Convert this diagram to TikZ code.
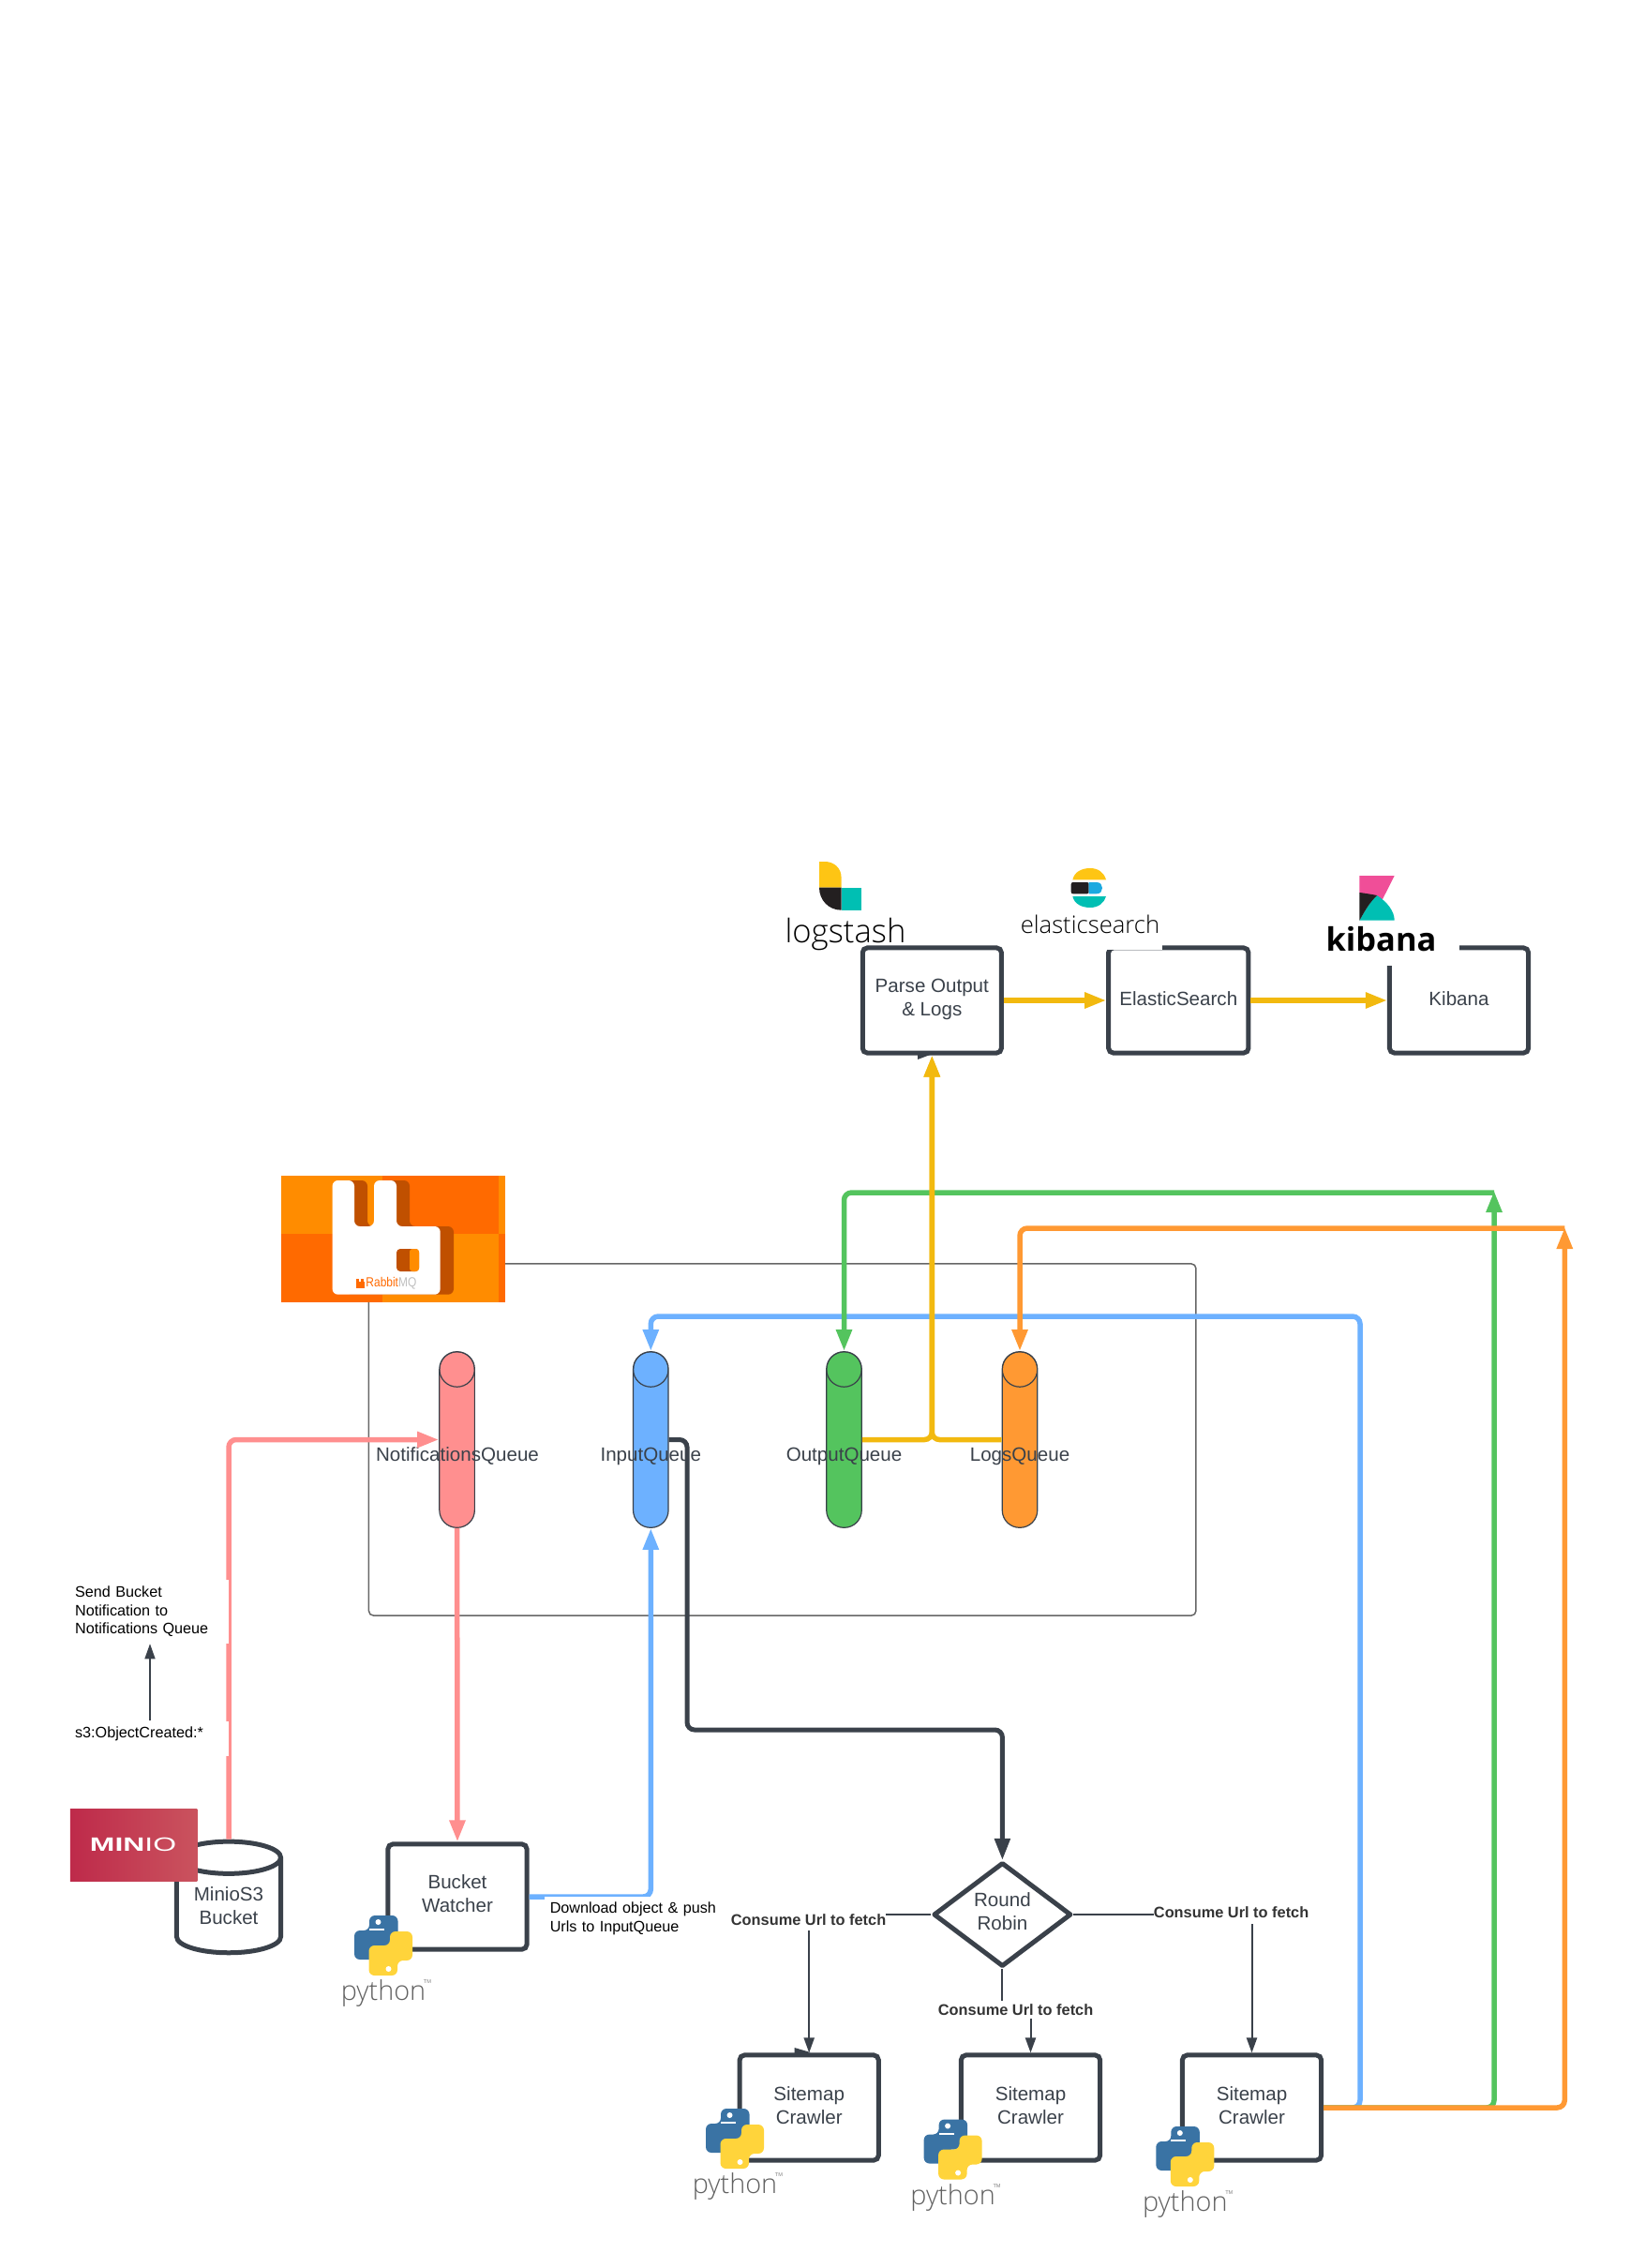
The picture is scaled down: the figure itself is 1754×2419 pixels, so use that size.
\documentclass[tikz,border=0pt]{standalone}
\usepackage{fontspec}
\setmainfont{Liberation Sans}
\newfontfamily\logofont{Open Sans}
\newfontfamily\thinfont{Open Sans Light}
\usetikzlibrary{shapes.geometric, arrows.meta, calc}

\definecolor{inkdark}{HTML}{3A414A}
\definecolor{qpink}{HTML}{FF8F8F}
\definecolor{qblue}{HTML}{6DB1FF}
\definecolor{qgreen}{HTML}{54C45E}
\definecolor{qorange}{HTML}{FF9933}
\definecolor{lineyellow}{HTML}{F2B90F}
\definecolor{pyblue}{HTML}{3A73A4}
\definecolor{pyyellow}{HTML}{FFD43B}
\definecolor{rabbitA}{HTML}{FF8C00}
\definecolor{rabbitB}{HTML}{FF6A00}
\definecolor{rabbitC}{HTML}{C05000}
\definecolor{minioA}{HTML}{BE2A4A}
\definecolor{minioB}{HTML}{CA535E}
\definecolor{elasticteal}{HTML}{00BFB3}
\definecolor{elasticyellow}{HTML}{FEC514}
\definecolor{elasticblue}{HTML}{1BA9E0}
\definecolor{kibanapink}{HTML}{F04E98}
\definecolor{logoblack}{HTML}{231F20}

\tikzset{
  procbox/.style={draw=inkdark, line width=.05cm, rounded corners=.05cm, minimum width=1.48cm,
    minimum height=1.12cm, align=center, text=inkdark, text depth=.055cm, font=\fontsize{5.85}{7.1}\selectfont},
  queue/.style={draw=inkdark, line width=.012cm, minimum width=.375cm, minimum height=1.875cm,
    rounded corners=.185cm, path picture={\draw[inkdark, line width=.012cm]
      ($(path picture bounding box.north)+(0,-.1875cm)$) circle (.1875cm);}},
  queuetext/.style={text=inkdark, inner sep=0pt, anchor=base, font=\fontsize{5.85}{7.1}\selectfont},
  flow/.style={line width=.055cm, rounded corners=.08cm, -{Triangle[length=.23cm,width=.16cm]}},
  thinflow/.style={draw=inkdark, line width=.02cm, -{Triangle[length=.16cm,width=.11cm]}},
  smalltext/.style={fill=white, align=left, inner ysep=0pt, font=\fontsize{4.6}{5.55}\selectfont},
  urltext/.style={fill=white, inner xsep=0pt, inner ysep=0pt, text=black!80, font=\bfseries\fontsize{4.65}{5.55}\selectfont},
  pylogo/.pic={
    \fill[pyblue, rounded corners=.06cm] (-15,-32) -- (15.5,-32) -- (15.5,0) -- (-7,0) -- (-7,15) -- (-31,15) -- (-31,-16) -- (-15,-16) -- cycle;
    \fill[white] (-5.5,-25) circle (3);
    \fill[white] (-15,-18) rectangle (1,-16);
    \begin{scope}[rotate=180]
      \fill[pyyellow, rounded corners=.06cm] (-15,-32) -- (15.5,-32) -- (15.5,0) -- (-7,0) -- (-7,15) -- (-31,15) -- (-31,-16) -- (-15,-16) -- cycle;
      \fill[white] (-5.5,-25) circle (3);
    \end{scope}
    \node (-word) [text=black!62, inner sep=0pt, font=\thinfont\fontsize{8.2}{8}\selectfont] at (0,51) {python};
    \node (-tm) [text=black!50, inner sep=0pt, font=\fontsize{1.6}{2}\selectfont] at (47,39) {TM};
  }
}

\begin{document}
\begin{tikzpicture}[x=.01cm, y=-.01cm]
  \useasboundingbox (0,0) rectangle (1754,2419);

  % rabbit group
  \node (queuegroup) [draw=black!60, line width=.015cm, rounded corners=.05cm, minimum width=8.82cm, minimum height=3.75cm] at (834.7,1535.5) {};

  % queues
  \node (notifq) [queue, fill=qpink] at (487.6,1535.5) {};
  \node (inputq) [queue, fill=qblue] at (694.3,1535.5) {};
  \node (outputq) [queue, fill=qgreen] at (900.5,1535.5) {};
  \node (logsq) [queue, fill=qorange] at (1088,1535.5) {};
  \node (notiftext) [queuetext] at (488,1558.5) {NotificationsQueue};
  \node (inputtext) [queuetext] at (694.3,1558.5) {InputQueue};
  \node (outputtext) [queuetext] at (900.5,1558.5) {OutputQueue};
  \node (logstext) [queuetext] at (1088,1558.5) {LogsQueue};

  % top row
  \node (parse) [procbox] at (994.3,1067) {Parse Output\\\& Logs};
  \node (elastic) [procbox, text depth=.04cm] at (1257.3,1067) {ElasticSearch};
  \node (kibana) [procbox, text depth=.04cm] at (1556.5,1067) {Kibana};

  % bucket and watcher
  \node (minio) [draw=inkdark, line width=.05cm, cylinder, shape border rotate=90, aspect=.35, minimum width=1.11cm, minimum height=1.06cm,
    align=center, text=inkdark, text depth=.12cm, font=\fontsize{5.85}{7.1}\selectfont] at (244,2038.5) {MinioS3\\Bucket};
  \node (watcher) [procbox, text depth=.07cm] at (488,2023) {Bucket\\Watcher};

  % round robin and crawlers
  \node (robin) [diamond, draw=inkdark, line width=.05cm, line join=round, minimum width=1.47cm, minimum height=1.11cm, inner sep=0pt, aspect=1.3,
    align=center, text=inkdark, text depth=.075cm, font=\fontsize{5.85}{7.1}\selectfont] at (1069.4,2042) {Round\\Robin};
  \node (crawlerA) [procbox] at (863.2,2248) {Sitemap\\Crawler};
  \node (crawlerB) [procbox] at (1099.5,2248) {Sitemap\\Crawler};
  \node (crawlerC) [procbox] at (1335.5,2248) {Sitemap\\Crawler};

  \coordinate (blueturn) at (1451,1404);
  \coordinate (greenturn) at (1594,1272);
  \coordinate (orangeturn) at (1669.3,1310);
  \coordinate (darkturn) at (733,1845);
  \coordinate (jog) at (1069.4,2143);

  % connectors
  \draw[flow, qpink] (minio.north) |- (notifq.west);
  \draw[flow, qpink] (notifq.south) -- (watcher.north);
  \draw[flow, qblue] (watcher.east) -| (inputq.south);
  \draw[flow, qblue] (crawlerC.east) -| (blueturn) -| (inputq.north);
  \draw[flow, qgreen] (greenturn) -| (outputq.north);
  \draw[flow, qgreen, shorten >=-.02cm] (crawlerC.east) -| (greenturn);
  \draw[flow, qorange] (orangeturn) -| (logsq.north);
  \draw[flow, qorange, shorten >=-.01cm] (crawlerC.east) -| (orangeturn);
  \draw[flow, lineyellow] (outputq.east) -| (parse.south);
  \draw[flow, lineyellow] (logsq.west) -| (parse.south);
  \draw[flow, lineyellow] (parse.east) -- (elastic.west);
  \draw[flow, lineyellow] (elastic.east) -- (kibana.west);
  \draw[flow, inkdark, line width=.05cm] (inputq.east) -| (darkturn) -| (robin.north);
  \draw[thinflow] (robin.west) -| (crawlerA.north);
  \draw[thinflow] (robin.east) -| (crawlerC.north);
  \draw[thinflow] (robin.south) |- (jog) -| (crawlerB.north);

  % labels sit on the lines
  \node (sendtext) [smalltext, text width=1.596cm, inner xsep=.04cm, minimum height=.67cm] at (160,1719) {Send Bucket\\Notification to\\Notifications Queue};
  \node (s3text) [smalltext, text width=1.596cm, inner xsep=.04cm, text height=.17cm, text depth=.2cm] at (160,1854.5) {s3:ObjectCreated:*};
  \draw[thinflow, line width=.015cm] (s3text.north) -- (sendtext.south);
  \node (pushtext) [smalltext, text width=1.78cm, inner xsep=.058cm, minimum height=.47cm] at (675.8,2046.5) {Download object \& push\\Urls to InputQueue};
  \node (urlA) [urltext, minimum height=.23cm] at (862.6,2047.7) {Consume Url to fetch};
  \node (urlB) [urltext, minimum height=.19cm] at (1083.6,2143.5) {Consume Url to fetch};
  \node (urlC) [urltext, minimum height=.234cm] at (1313.6,2040) {Consume Url to fetch};

  % stray tips
  \fill[inkdark] (847.6,2184) -- (864.6,2189) -- (847.6,2194) -- cycle;
  \fill[inkdark] (979,1124) -- (995,1124) -- (979,1130) -- cycle;

  % rabbitmq logo
  \fill[rabbitA] (300,1254) rectangle (408,1316);
  \fill[rabbitB] (408,1254) rectangle (532,1316);
  \fill[rabbitB] (300,1316) rectangle (408,1388.7);
  \fill[rabbitA] (408,1316) rectangle (532,1388.7);
  \fill[rabbitA] (532,1254) rectangle (539,1316);
  \fill[rabbitB] (532,1316) rectangle (539,1388.7);
  \fill[rabbitC, rounded corners=.06cm] (368.6,1259) -- (392,1259) -- (392,1308) -- (413,1308) -- (413,1259) -- (437,1259) -- (437,1308) -- (484,1308) -- (484,1380.7) -- (368.6,1380.7) -- cycle;
  \fill[white, rounded corners=.06cm] (354.6,1259) -- (378,1259) -- (378,1308) -- (399,1308) -- (399,1259) -- (423,1259) -- (423,1308) -- (469.7,1308) -- (469.7,1380.7) -- (354.6,1380.7) -- cycle;
  \fill[rabbitC, rounded corners=.04cm] (423,1332) rectangle (447,1356);
  \fill[rabbitA, rounded corners=.03cm] (437,1332) rectangle (447,1356);
  \fill[rabbitB] (380.4,1367) rectangle (389.4,1374);
  \fill[rabbitB] (380.4,1364.3) rectangle (383,1367);
  \fill[rabbitB] (385,1364.3) rectangle (387.6,1367);
  \node (rabbittext) [xscale=.85, inner sep=0pt, font=\fontsize{4}{4}\selectfont] at (417.4,1369) {\textcolor{rabbitB}{Rabbit}\textcolor{black!25}{MQ}};

  % minio logo
  \shade[left color=minioA, right color=minioB] (74.9,1929) rectangle (210.3,2006);
  \node (miniotext) [text=white, xscale=1.55, inner sep=0pt, font=\fontsize{5.85}{6}\selectfont] at (142,1967.7) {\textbf{MIN}IO};

  % logstash logo
  \fill[elasticyellow] (874,946.7) -- (874,919) -- (880,919) .. controls (890,919) and (897.6,926) .. (897.6,936) -- (897.6,946.7) -- cycle;
  \fill[logoblack] (874,946.7) -- (897.6,946.7) -- (897.6,970.7) .. controls (884,970.7) and (874,960) .. (874,946.7) -- cycle;
  \fill[elasticteal] (897.6,946.7) rectangle (918.8,970.7);
  \node (logstashtext) [inner sep=0pt, anchor=base, text=black, font=\thinfont\fontsize{9.85}{9.85}\selectfont] at (902,1005.5) {logstash};

  % elasticsearch logo
  \fill[white] (1085,925) rectangle (1240,1012.7);
  \fill[elasticyellow] (1144.4,938.3) .. controls (1146,930) and (1154,926) .. (1163,926) .. controls (1172,926) and (1178,931) .. (1180,938.3) -- cycle;
  \fill[logoblack, rounded corners=.02cm] (1142.7,941) rectangle (1161.7,953.3);
  \fill[elasticblue] (1161.7,941) -- (1170,941) .. controls (1178,941) and (1178,953.3) .. (1170,953.3) -- (1161.7,953.3) -- cycle;
  \fill[elasticteal] (1144.4,956) .. controls (1146,964) and (1154,968) .. (1163,968) .. controls (1172,968) and (1178,963) .. (1180,956) -- cycle;
  \node (elastictext) [inner sep=0pt, anchor=base, text=black, font=\thinfont\fontsize{7.3}{7.3}\selectfont] at (1163,995) {elasticsearch};

  % kibana logo
  \fill[white] (1410,930) rectangle (1557,1030);
  \fill[kibanapink] (1450.4,934) -- (1487.7,934) -- (1469,971) -- (1450.4,952) -- cycle;
  \fill[elasticteal] (1450.4,981.7) .. controls (1458,968) and (1462,962) .. (1469,955) .. controls (1480,962) and (1487.7,972) .. (1487.7,981.7) -- cycle;
  \fill[logoblack] (1450.4,952) .. controls (1458,953) and (1464,954) .. (1469,955) .. controls (1462,962) and (1458,968) .. (1450.4,981.7) -- cycle;
  \node (kibanatext) [inner sep=0pt, anchor=base, text=black, font=\logofont\bfseries\fontsize{9.8}{10}\selectfont] at (1473.5,1014) {kibana};

  % python logos
  \pic (pywatcher) at (409,2075) {pylogo};
  \pic (pycrawlerA) at (784,2281) {pylogo};
  \pic (pycrawlerB) at (1016.6,2292.5) {pylogo};
  \pic (pycrawlerC) at (1264.3,2300) {pylogo};
\end{tikzpicture}
\end{document}
